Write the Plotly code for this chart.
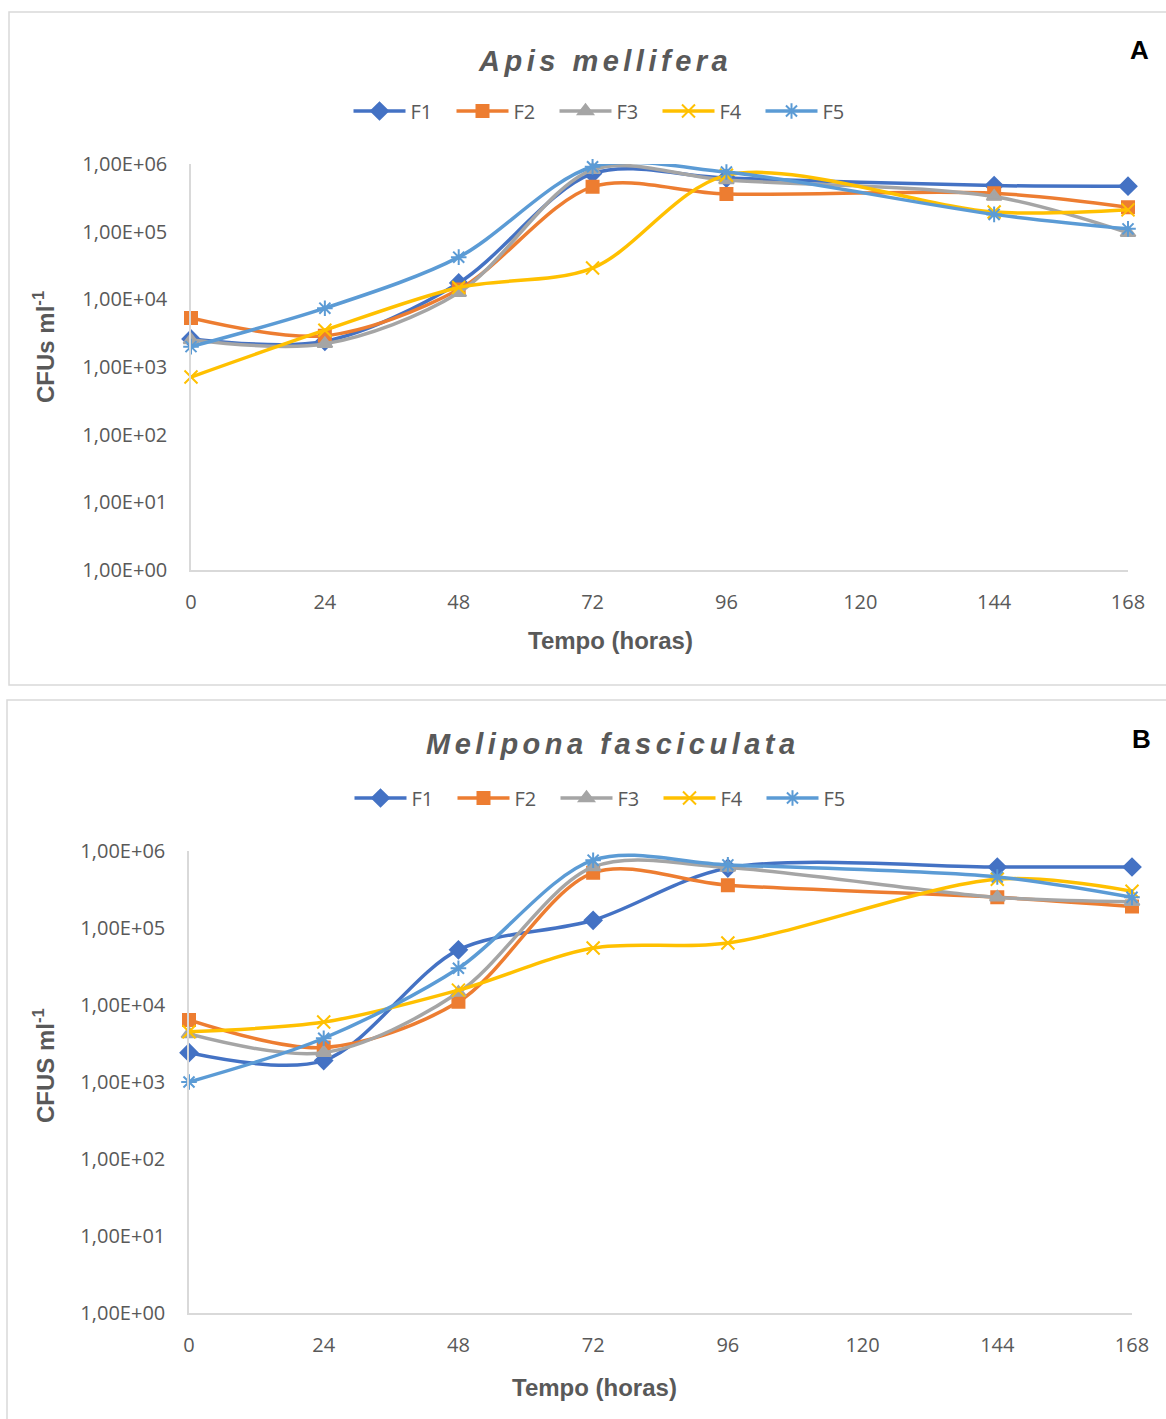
import plotly.graph_objects as go

W, H = 1166, 1419

hours = [0, 24, 48, 72, 96, 144, 168]
series_names = ["F1", "F2", "F3", "F4", "F5"]

# Panel A - Apis mellifera (CFU/ml)
apis_f1 = [2.6e3, 2.4e3, 1.75e4, 7.2e5, 6.2e5, 4.8e5, 4.7e5]
apis_f2 = [5.3e3, 2.9e3, 1.4e4, 4.6e5, 3.6e5, 3.7e5, 2.3e5]
apis_f3 = [2.5e3, 2.2e3, 1.25e4, 8.2e5, 5.8e5, 3.3e5, 9.6e4]
apis_f4 = [7.1e2, 3.5e3, 1.5e4, 2.9e4, 6.8e5, 1.95e5, 2.1e5]
apis_f5 = [2.0e3, 7.4e3, 4.2e4, 9.1e5, 7.6e5, 1.8e5, 1.1e5]

# Panel B - Melipona fasciculata (CFU/ml)
meli_f1 = [2.4e3, 1.9e3, 5.2e4, 1.26e5, 6.0e5, 6.2e5, 6.2e5]
meli_f2 = [6.4e3, 2.8e3, 1.1e4, 5.2e5, 3.6e5, 2.5e5, 1.9e5]
meli_f3 = [4.2e3, 2.4e3, 1.45e4, 6.2e5, 6.1e5, 2.5e5, 2.2e5]
meli_f4 = [4.5e3, 6.0e3, 1.56e4, 5.5e4, 6.4e4, 4.3e5, 3.0e5]
meli_f5 = [1.0e3, 3.7e3, 3.0e4, 7.6e5, 6.6e5, 4.6e5, 2.5e5]

y_tickvals = [1, 10, 100, 1e3, 1e4, 1e5, 1e6]
y_ticktext = ["1,00E+00", "1,00E+01", "1,00E+02", "1,00E+03",
              "1,00E+04", "1,00E+05", "1,00E+06"]
x_tickvals = [0, 24, 48, 72, 96, 120, 144, 168]

colors = ["#4472C4", "#ED7D31", "#A5A5A5", "#FFC000", "#5B9BD5"]
symbols = ["diamond", "square", "triangle-up", "x-thin-open", "asterisk-open"]
sizes = [13, 12, 13, 13, 13]

GRAY = "#595959"
AXIS = "#D9D9D9"
TICKFONT = dict(family="Open Sans", size=20, color=GRAY)
BOLD = "Liberation Sans, Arial"


def fx(px):
    return px / W


def fy(py):
    return 1 - py / H


fig = go.Figure()

panels = [
    dict(data=[apis_f1, apis_f2, apis_f3, apis_f4, apis_f5], xa="x", ya="y", legend="legend"),
    dict(data=[meli_f1, meli_f2, meli_f3, meli_f4, meli_f5], xa="x2", ya="y2", legend="legend2"),
]

for p in panels:
    for i, name in enumerate(series_names):
        fig.add_trace(go.Scatter(
            x=hours, y=p["data"][i], name=name, mode="lines+markers",
            xaxis=p["xa"], yaxis=p["ya"], legend=p["legend"],
            line=dict(color=colors[i], width=3.5, shape="spline", smoothing=0.9),
            marker=dict(symbol=symbols[i], size=sizes[i], color=colors[i],
                        line=dict(color=colors[i], width=2)),
            cliponaxis=False,
        ))

common_x = dict(range=[0, 168], tickvals=x_tickvals, showline=True, linecolor=AXIS,
                linewidth=1.5, showgrid=False, zeroline=False, ticks="",
                tickfont=TICKFONT, ticklabelstandoff=13, fixedrange=True,
                automargin=False)
common_y = dict(type="log", range=[0, 6], tickvals=y_tickvals, ticktext=y_ticktext,
                showline=True, linecolor=AXIS, linewidth=1.5, showgrid=False,
                zeroline=False, ticks="", tickfont=TICKFONT, ticklabelstandoff=18,
                fixedrange=True, automargin=False)

legend_common = dict(orientation="h", xanchor="center", yanchor="middle",
                     font=dict(family="Open Sans", size=20, color=GRAY),
                     bgcolor="rgba(0,0,0,0)", itemwidth=52, entrywidth=36,
                     itemclick=False, itemdoubleclick=False)

fig.update_layout(
    width=W, height=H,
    margin=dict(l=0, r=0, t=0, b=0, pad=0, autoexpand=False),
    paper_bgcolor="white", plot_bgcolor="white",
    xaxis=dict(domain=[fx(191), fx(1128)], anchor="y", **common_x),
    yaxis=dict(domain=[fy(570), fy(164)], anchor="x", **common_y),
    xaxis2=dict(domain=[fx(189), fx(1132)], anchor="y2", **common_x),
    yaxis2=dict(domain=[fy(1313), fy(851)], anchor="x2", **common_y),
    legend=dict(x=fx(606), y=fy(111), **legend_common),
    legend2=dict(x=fx(607), y=fy(798), **legend_common),
    showlegend=True,
)

# Panel frames
fig.add_shape(type="rect", xref="paper", yref="paper",
              x0=fx(9), x1=fx(1180), y0=fy(685), y1=fy(12),
              line=dict(color=AXIS, width=1.5), fillcolor="rgba(0,0,0,0)", layer="below")
fig.add_shape(type="rect", xref="paper", yref="paper",
              x0=fx(7), x1=fx(1180), y0=fy(1440), y1=fy(700),
              line=dict(color=AXIS, width=1.5), fillcolor="rgba(0,0,0,0)", layer="below")

annotations = [
    # chart titles
    dict(text='<span style="letter-spacing:4.5px"><b><i>Apis mellifera</i></b></span>',
         x=fx(605), y=fy(61), font=dict(family=BOLD, size=29, color=GRAY)),
    dict(text='<span style="letter-spacing:4.5px"><b><i>Melipona fasciculata</i></b></span>',
         x=fx(613), y=fy(744), font=dict(family=BOLD, size=29, color=GRAY)),
    # panel letters
    dict(text="<b>A</b>", x=fx(1139), y=fy(50), font=dict(family=BOLD, size=26, color="black")),
    dict(text="<b>B</b>", x=fx(1141), y=fy(739), font=dict(family=BOLD, size=26, color="black")),
    # axis titles
    dict(text="<b>Tempo (horas)</b>", x=fx(610), y=fy(640), font=dict(family=BOLD, size=24, color=GRAY)),
    dict(text="<b>Tempo (horas)</b>", x=fx(594), y=fy(1387), font=dict(family=BOLD, size=24, color=GRAY)),
    dict(text="<b>CFUs ml<sup>-1</sup></b>", x=fx(44), y=fy(347), textangle=-90,
         font=dict(family=BOLD, size=24, color=GRAY)),
    dict(text="<b>CFUS ml<sup>-1</sup></b>", x=fx(44), y=fy(1066), textangle=-90,
         font=dict(family=BOLD, size=24, color=GRAY)),
]
for a in annotations:
    fig.add_annotation(xref="paper", yref="paper", showarrow=False,
                       xanchor="center", yanchor="middle", **a)

fig.write_html("out.html", config={"displayModeBar": False},
               post_script="document.body.style.margin='0';")
